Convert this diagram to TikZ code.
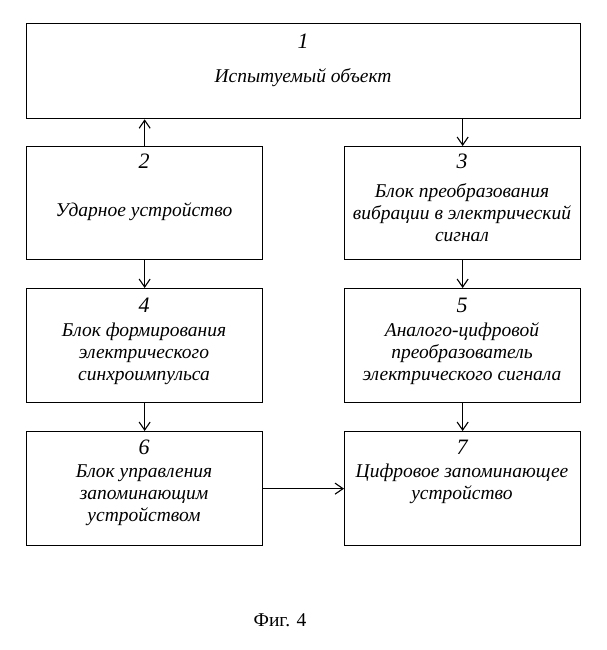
\documentclass[tikz,border=0pt]{standalone}
\usepackage{fontspec}
\setmainfont{Liberation Serif}
\usetikzlibrary{arrows.meta,positioning}

\tikzset{
	blok/.style={draw, line width=1.3pt, anchor=north west, inner sep=0pt, minimum width=236pt},
	nomer/.style={font=\fontsize{22}{22}\selectfont\itshape},
	tekst/.style={align=center, font=\fontsize{19.5}{22}\selectfont\itshape},
	strelka/.style={-{Straight Barb[length=8pt,width=11pt,line width=1.1pt]}, line width=1.1pt}
}

\begin{document}
\begin{tikzpicture}[x=1pt,y=-1pt]
		\useasboundingbox (0,0) rectangle (606,650);
		
		% Top object
		\node[blok, minimum width=554pt, minimum height=95pt] (b1) at (26,23) {};
		\node[nomer] (n1) at (303,41) {1};
		\node[tekst] (t1) at (303,78) {Испытуемый объект};
		
		% Second row
		\node[blok, minimum height=113pt] (b2) at (26,146) {};
		\node[nomer] (n2) at (144,161) {2};
		\node[tekst] (t2) at (144,212) {Ударное устройство};
		
		\node[blok, minimum height=113pt] (b3) at (344,146) {};
		\node[nomer] (n3) at (462,161) {3};
		\node[tekst] (t3) at (462,213) {Блок преобразования\\вибрации в электрический\\сигнал};
		
		% Third row
		\node[blok, minimum height=114pt] (b4) at (26,288) {};
		\node[nomer] (n4) at (144,305) {4};
		\node[tekst] (t4) at (144,354) {Блок формирования\\электрического\\синхроимпульса};
		
		\node[blok, minimum height=114pt] (b5) at (344,288) {};
		\node[nomer] (n5) at (462,305) {5};
		\node[tekst] (t5) at (462,354) {Аналого-цифровой\\преобразователь\\электрического сигнала};
		
		% Fourth row
		\node[blok, minimum height=114pt] (b6) at (26,431) {};
		\node[nomer] (n6) at (144,447) {6};
		\node[tekst] (t6) at (144,495) {Блок управления\\запоминающим\\устройством};
		
		\node[blok, minimum height=114pt] (b7) at (344,431) {};
		\node[nomer] (n7) at (462,447) {7};
		\node[tekst] (t7) at (462,484) {Цифровое запоминающее\\устройство};
		
		% Connections
		\draw[strelka] (b2.north) -- (b1.south -| b2.north);
		\draw[strelka] (b1.south -| b3.north) -- (b3.north);
		\draw[strelka] (b2.south) -- (b4.north);
		\draw[strelka] (b3.south) -- (b5.north);
		\draw[strelka] (b4.south) -- (b6.north);
		\draw[strelka] (b5.south) -- (b7.north);
		\draw[strelka] (b6.east) -- (b7.west);
		
		% Caption
		\node[font=\fontsize{19.5}{20}\selectfont] (fig) at (280,620) {Фиг. 4};
\end{tikzpicture}
\end{document}
